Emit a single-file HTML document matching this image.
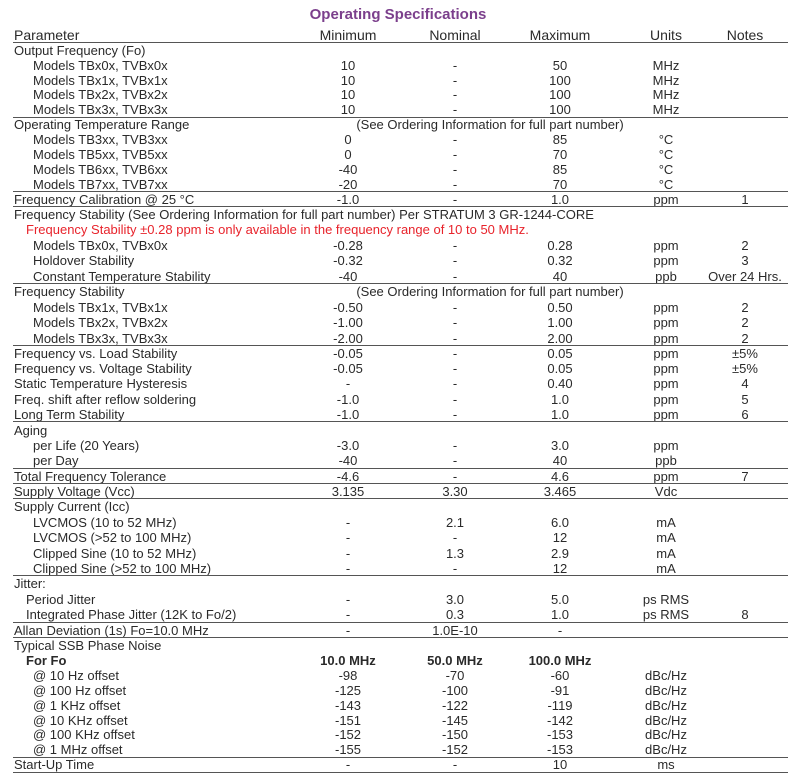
<!DOCTYPE html>
<html><head><meta charset="utf-8"><style>
body{margin:0;width:796px;height:775px;background:#fff;position:relative;overflow:hidden;font-family:"Liberation Sans",sans-serif;color:#2a2a2a;font-size:13px}
.t{position:absolute;left:0;width:796px;top:6px;text-align:center;color:#7b3f8c;font-weight:bold;font-size:15px}
.r{position:absolute;left:0;width:796px;height:16px;line-height:16px;white-space:nowrap}
.r span{position:absolute;top:1px}
.p{left:14px}.i{left:33px}.i2{left:26px}
.a,.b,.c,.u,.n{text-align:center}
.a{left:298px;width:100px}.b{left:405px;width:100px}.c{left:510px;width:100px}.u{left:626px;width:80px}.n{left:700px;width:90px}
.w{left:290px;width:400px;text-align:center}
.l{position:absolute;left:13px;width:775px;height:0;border-top:1.5px solid #555}
.h{font-size:14px}
.red{color:#e8232b}
b{font-weight:bold}
</style></head><body>
<div class="t">Operating Specifications</div>
<div class="r h" style="top:26px"><span class="p">Parameter</span><span class="a">Minimum</span><span class="b">Nominal</span><span class="c">Maximum</span><span class="u">Units</span><span class="n">Notes</span></div>
<div class="l" style="top:42px"></div>
<div class="r" style="top:42px"><span class="p">Output Frequency (Fo)</span></div>
<div class="r" style="top:57px"><span class="i">Models TBx0x, TVBx0x</span><span class="a">10</span><span class="b">-</span><span class="c">50</span><span class="u">MHz</span></div>
<div class="r" style="top:72px"><span class="i">Models TBx1x, TVBx1x</span><span class="a">10</span><span class="b">-</span><span class="c">100</span><span class="u">MHz</span></div>
<div class="r" style="top:86px"><span class="i">Models TBx2x, TVBx2x</span><span class="a">10</span><span class="b">-</span><span class="c">100</span><span class="u">MHz</span></div>
<div class="r" style="top:101px"><span class="i">Models TBx3x, TVBx3x</span><span class="a">10</span><span class="b">-</span><span class="c">100</span><span class="u">MHz</span></div>
<div class="l" style="top:117px"></div>
<div class="r" style="top:116px"><span class="p">Operating Temperature Range</span><span class="w">(See Ordering Information for full part number)</span></div>
<div class="r" style="top:131px"><span class="i">Models TB3xx, TVB3xx</span><span class="a">0</span><span class="b">-</span><span class="c">85</span><span class="u">°C</span></div>
<div class="r" style="top:146px"><span class="i">Models TB5xx, TVB5xx</span><span class="a">0</span><span class="b">-</span><span class="c">70</span><span class="u">°C</span></div>
<div class="r" style="top:161px"><span class="i">Models TB6xx, TVB6xx</span><span class="a">-40</span><span class="b">-</span><span class="c">85</span><span class="u">°C</span></div>
<div class="r" style="top:176px"><span class="i">Models TB7xx, TVB7xx</span><span class="a">-20</span><span class="b">-</span><span class="c">70</span><span class="u">°C</span></div>
<div class="l" style="top:191px"></div>
<div class="r" style="top:191px"><span class="p">Frequency Calibration @ 25 °C</span><span class="a">-1.0</span><span class="b">-</span><span class="c">1.0</span><span class="u">ppm</span><span class="n">1</span></div>
<div class="l" style="top:206px"></div>
<div class="r" style="top:206px"><span class="p">Frequency Stability (See Ordering Information for full part number) Per STRATUM 3 GR-1244-CORE</span></div>
<div class="r red" style="top:221px"><span class="i2">Frequency Stability ±0.28 ppm is only available in the frequency range of 10 to 50 MHz.</span></div>
<div class="r" style="top:237px"><span class="i">Models TBx0x, TVBx0x</span><span class="a">-0.28</span><span class="b">-</span><span class="c">0.28</span><span class="u">ppm</span><span class="n">2</span></div>
<div class="r" style="top:252px"><span class="i">Holdover Stability</span><span class="a">-0.32</span><span class="b">-</span><span class="c">0.32</span><span class="u">ppm</span><span class="n">3</span></div>
<div class="r" style="top:268px"><span class="i">Constant Temperature Stability</span><span class="a">-40</span><span class="b">-</span><span class="c">40</span><span class="u">ppb</span><span class="n">Over 24 Hrs.</span></div>
<div class="l" style="top:283px"></div>
<div class="r" style="top:283px"><span class="p">Frequency Stability</span><span class="w">(See Ordering Information for full part number)</span></div>
<div class="r" style="top:299px"><span class="i">Models TBx1x, TVBx1x</span><span class="a">-0.50</span><span class="b">-</span><span class="c">0.50</span><span class="u">ppm</span><span class="n">2</span></div>
<div class="r" style="top:314px"><span class="i">Models TBx2x, TVBx2x</span><span class="a">-1.00</span><span class="b">-</span><span class="c">1.00</span><span class="u">ppm</span><span class="n">2</span></div>
<div class="r" style="top:330px"><span class="i">Models TBx3x, TVBx3x</span><span class="a">-2.00</span><span class="b">-</span><span class="c">2.00</span><span class="u">ppm</span><span class="n">2</span></div>
<div class="l" style="top:345px"></div>
<div class="r" style="top:345px"><span class="p">Frequency vs. Load Stability</span><span class="a">-0.05</span><span class="b">-</span><span class="c">0.05</span><span class="u">ppm</span><span class="n">±5%</span></div>
<div class="r" style="top:360px"><span class="p">Frequency vs. Voltage Stability</span><span class="a">-0.05</span><span class="b">-</span><span class="c">0.05</span><span class="u">ppm</span><span class="n">±5%</span></div>
<div class="r" style="top:375px"><span class="p">Static Temperature Hysteresis</span><span class="a">-</span><span class="b">-</span><span class="c">0.40</span><span class="u">ppm</span><span class="n">4</span></div>
<div class="r" style="top:391px"><span class="p">Freq. shift after reflow soldering</span><span class="a">-1.0</span><span class="b">-</span><span class="c">1.0</span><span class="u">ppm</span><span class="n">5</span></div>
<div class="r" style="top:406px"><span class="p">Long Term Stability</span><span class="a">-1.0</span><span class="b">-</span><span class="c">1.0</span><span class="u">ppm</span><span class="n">6</span></div>
<div class="l" style="top:421px"></div>
<div class="r" style="top:422px"><span class="p">Aging</span></div>
<div class="r" style="top:437px"><span class="i">per Life (20 Years)</span><span class="a">-3.0</span><span class="b">-</span><span class="c">3.0</span><span class="u">ppm</span></div>
<div class="r" style="top:452px"><span class="i">per Day</span><span class="a">-40</span><span class="b">-</span><span class="c">40</span><span class="u">ppb</span></div>
<div class="l" style="top:468px"></div>
<div class="r" style="top:468px"><span class="p">Total Frequency Tolerance</span><span class="a">-4.6</span><span class="b">-</span><span class="c">4.6</span><span class="u">ppm</span><span class="n">7</span></div>
<div class="l" style="top:483px"></div>
<div class="r" style="top:483px"><span class="p">Supply Voltage (Vcc)</span><span class="a">3.135</span><span class="b">3.30</span><span class="c">3.465</span><span class="u">Vdc</span></div>
<div class="l" style="top:498px"></div>
<div class="r" style="top:498px"><span class="p">Supply Current (Icc)</span></div>
<div class="r" style="top:514px"><span class="i">LVCMOS (10 to 52 MHz)</span><span class="a">-</span><span class="b">2.1</span><span class="c">6.0</span><span class="u">mA</span></div>
<div class="r" style="top:529px"><span class="i">LVCMOS (&gt;52 to 100 MHz)</span><span class="a">-</span><span class="b">-</span><span class="c">12</span><span class="u">mA</span></div>
<div class="r" style="top:545px"><span class="i">Clipped Sine (10 to 52 MHz)</span><span class="a">-</span><span class="b">1.3</span><span class="c">2.9</span><span class="u">mA</span></div>
<div class="r" style="top:560px"><span class="i">Clipped Sine (&gt;52 to 100 MHz)</span><span class="a">-</span><span class="b">-</span><span class="c">12</span><span class="u">mA</span></div>
<div class="l" style="top:575px"></div>
<div class="r" style="top:575px"><span class="p">Jitter:</span></div>
<div class="r" style="top:591px"><span class="i2">Period Jitter</span><span class="a">-</span><span class="b">3.0</span><span class="c">5.0</span><span class="u">ps RMS</span></div>
<div class="r" style="top:606px"><span class="i2">Integrated Phase Jitter (12K to Fo/2)</span><span class="a">-</span><span class="b">0.3</span><span class="c">1.0</span><span class="u">ps RMS</span><span class="n">8</span></div>
<div class="l" style="top:622px"></div>
<div class="r" style="top:622px"><span class="p">Allan Deviation (1s) Fo=10.0 MHz</span><span class="a">-</span><span class="b">1.0E-10</span><span class="c">-</span></div>
<div class="l" style="top:637px"></div>
<div class="r" style="top:637px"><span class="p">Typical SSB Phase Noise</span></div>
<div class="r" style="top:652px"><span class="i2"><b>For Fo</b></span><span class="a"><b>10.0 MHz</b></span><span class="b"><b>50.0 MHz</b></span><span class="c"><b>100.0 MHz</b></span></div>
<div class="r" style="top:667px"><span class="i">@ 10 Hz offset</span><span class="a">-98</span><span class="b">-70</span><span class="c">-60</span><span class="u">dBc/Hz</span></div>
<div class="r" style="top:682px"><span class="i">@ 100 Hz offset</span><span class="a">-125</span><span class="b">-100</span><span class="c">-91</span><span class="u">dBc/Hz</span></div>
<div class="r" style="top:697px"><span class="i">@ 1 KHz offset</span><span class="a">-143</span><span class="b">-122</span><span class="c">-119</span><span class="u">dBc/Hz</span></div>
<div class="r" style="top:712px"><span class="i">@ 10 KHz offset</span><span class="a">-151</span><span class="b">-145</span><span class="c">-142</span><span class="u">dBc/Hz</span></div>
<div class="r" style="top:726px"><span class="i">@ 100 KHz offset</span><span class="a">-152</span><span class="b">-150</span><span class="c">-153</span><span class="u">dBc/Hz</span></div>
<div class="r" style="top:741px"><span class="i">@ 1 MHz offset</span><span class="a">-155</span><span class="b">-152</span><span class="c">-153</span><span class="u">dBc/Hz</span></div>
<div class="l" style="top:757px"></div>
<div class="r" style="top:756px"><span class="p">Start-Up Time</span><span class="a">-</span><span class="b">-</span><span class="c">10</span><span class="u">ms</span></div>
<div class="l" style="top:772px"></div>
</body></html>
